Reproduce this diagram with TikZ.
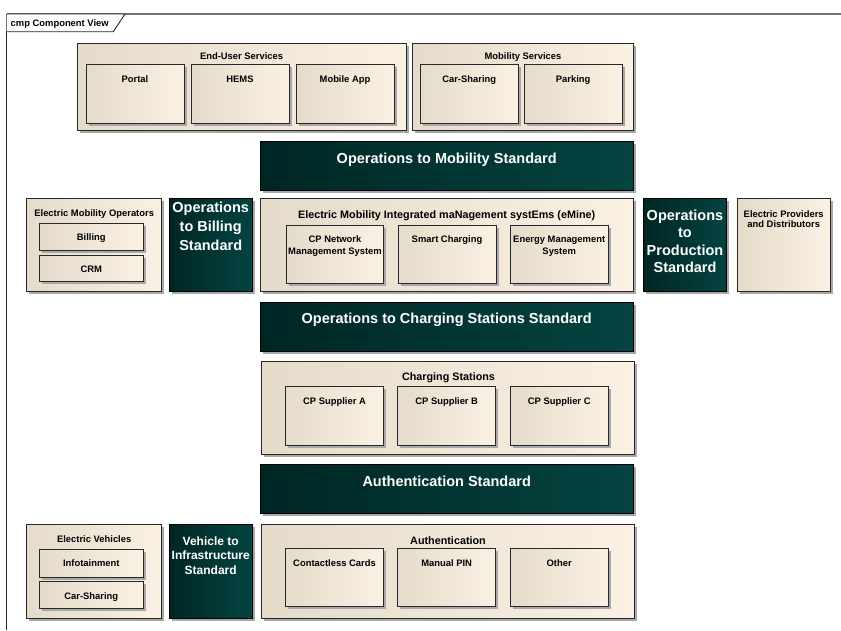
\documentclass[tikz,border=0pt]{standalone}
\usepackage{fontspec}
\setmainfont{Liberation Sans}
\usetikzlibrary{shadows,fit}

\definecolor{beigeL}{RGB}{228,219,202}
\definecolor{beigeR}{RGB}{251,241,227}
\definecolor{tealL}{RGB}{0,38,36}
\definecolor{tealR}{RGB}{4,68,65}
\definecolor{edge}{RGB}{40,40,40}

\tikzset{
  shadebase/.style={inner sep=0pt, outer sep=0pt, draw=edge, line width=0.9pt,
    general shadow={fill=black!34, shadow xshift=2.6pt, shadow yshift=-2.6pt}},
  container/.style={shadebase, left color=beigeL, right color=beigeR},
  part/.style={container},
  standard/.style={shadebase, draw=black, left color=tealL, right color=tealR},
  small/.style={font=\bfseries\fontsize{9.4}{11}\selectfont, text=black,
    inner sep=0pt, anchor=base, align=center},
  title/.style={small, font=\bfseries\fontsize{10.8}{12}\selectfont},
  big/.style={font=\bfseries\fontsize{14.5}{17.5}\selectfont, text=white,
    inner sep=0pt, anchor=base, align=center},
}

% #1 name, #2 style, (#3,#4) top-left, (#5,#6) bottom-right
\newcommand\comp[6]{\node[#2, fit={(#3,#4) (#5,#6)}] (#1) {};}

\begin{document}
\begin{tikzpicture}[x=1pt, y=-1pt]
\useasboundingbox (0,0) rectangle (841,630);
\fill[white] (0,0) rectangle (841,630);

% diagram frame and its name tab
\draw[black!55, line width=1.2pt] (6.7,14) -- (841,14);
\draw[black!85, line width=1pt] (6.7,630) -- (6.7,14);
\draw[black!85, line width=0.9pt, fill=white] (6.7,14) -- (125,14) -- (113.3,31.7) -- (6.7,31.7);
\node[small, anchor=base west] (frame-t) at (10.5,26.5) {cmp Component View};

% ---------- top row: services ----------
\comp{eus}{container}{77.3}{43.3}{406}{130.3}
\comp{ms}{container}{412.7}{43.3}{633.3}{130.3}
\comp{portal}{part}{86}{64.3}{184}{123.3}
\comp{hems}{part}{191}{64.3}{289}{123.3}
\comp{mobapp}{part}{296}{64.3}{394}{123.3}
\comp{carsh}{part}{420}{64.3}{518.3}{123.3}
\comp{parking}{part}{524}{64.3}{622.3}{123.3}
\node[small] (eus-t) at (241.6,59.5) {End-User Services};
\node[small] (ms-t) at (523,59.5) {Mobility Services};
\node[small] (portal-t) at (135,82.8) {Portal};
\node[small] (hems-t) at (240,82.8) {HEMS};
\node[small] (mobapp-t) at (345,82.8) {Mobile App};
\node[small] (carsh-t) at (469.2,82.8) {Car-Sharing};
\node[small] (parking-t) at (573.2,82.8) {Parking};

% ---------- operations to mobility ----------
\comp{opmob}{standard}{260}{141.7}{633.3}{190.7}
\node[big] (opmob-t) at (446.7,163.7) {Operations to Mobility Standard};

% ---------- middle row: operators, eMine, providers ----------
% (multi-line labels are placed by the baseline of their last line)
\comp{emo}{container}{26.7}{198.3}{161.7}{291.7}
\comp{billing}{part}{39.3}{223.3}{143.3}{250}
\comp{crm}{part}{39.3}{255}{143.3}{281.7}
\node[small] (emo-t) at (94.2,216.8) {Electric Mobility Operators};
\node[small] (billing-t) at (91.3,240.4) {Billing};
\node[small] (crm-t) at (91.3,272) {CRM};

\comp{opbill}{standard}{169}{198.3}{252.3}{291.7}
\node[big, font=\bfseries\fontsize{14.5}{19}\selectfont] (opbill-t) at (210.7,250) {Operations\\to Billing\\Standard};

\comp{emine}{container}{260}{198.3}{633.3}{291.7}
\comp{cpnet}{part}{286.7}{225.7}{383.3}{283.3}
\comp{smart}{part}{398}{225.7}{496}{283.3}
\comp{energy}{part}{510}{225.7}{608.3}{283.3}
\node[title] (emine-t) at (446.7,218.5) {Electric Mobility Integrated maNagement systEms (eMine)};
\node[small, font=\bfseries\fontsize{9.4}{12.5}\selectfont] (cpnet-t) at (335,254.5) {CP Network\\Management System};
\node[small] (smart-t) at (447,242) {Smart Charging};
\node[small, font=\bfseries\fontsize{9.4}{12.5}\selectfont] (energy-t) at (559.2,254.5) {Energy Management\\System};

\comp{opprod}{standard}{643.3}{198.3}{726.7}{291.7}
\node[big] (opprod-t) at (685,272.5) {Operations\\to\\Production\\Standard};

\comp{eprov}{container}{737.3}{198.3}{830}{291.7}
\node[small, font=\bfseries\fontsize{9.4}{10.5}\selectfont] (eprov-t) at (783.7,227.5) {Electric Providers\\and Distributors};

% ---------- charging stations ----------
\comp{opcs}{standard}{260}{302.3}{633.3}{351}
\node[big] (opcs-t) at (446.7,323.7) {Operations to Charging Stations Standard};

\comp{cs}{container}{261.7}{361.7}{634.3}{454.3}
\comp{cpa}{part}{285.7}{386.7}{383.3}{445}
\comp{cpb}{part}{397.7}{386.7}{495.7}{445}
\comp{cpc}{part}{510}{386.7}{608.3}{445}
\node[title] (cs-t) at (448.5,380.5) {Charging Stations};
\node[small] (cpa-t) at (334.5,404.4) {CP Supplier A};
\node[small] (cpb-t) at (446.7,404.4) {CP Supplier B};
\node[small] (cpc-t) at (559.2,404.4) {CP Supplier C};

% ---------- authentication ----------
\comp{authstd}{standard}{260}{464}{633.3}{513}
\node[big] (authstd-t) at (446.7,486) {Authentication Standard};

\comp{ev}{container}{26.7}{524.3}{161.7}{618.3}
\comp{info}{part}{39.3}{549}{143.3}{577}
\comp{carsh2}{part}{39.3}{581}{143.3}{608.3}
\node[small] (ev-t) at (94.2,542.7) {Electric Vehicles};
\node[small] (info-t) at (91.3,566.7) {Infotainment};
\node[small] (carsh2-t) at (91.3,599) {Car-Sharing};

\comp{v2i}{standard}{169}{524.3}{252.3}{618.3}
\node[big, font=\bfseries\fontsize{12}{14.2}\selectfont] (v2i-t) at (210.7,574) {Vehicle to\\Infrastructure\\Standard};

\comp{auth}{container}{261.7}{524.3}{634.3}{618.3}
\comp{cc}{part}{285.7}{548}{383.3}{606.7}
\comp{pin}{part}{397.7}{548}{495.7}{606.7}
\comp{other}{part}{510}{548}{608.3}{606.7}
\node[title] (auth-t) at (448,544) {Authentication};
\node[small] (cc-t) at (334.5,566.3) {Contactless Cards};
\node[small] (pin-t) at (446.7,566.3) {Manual PIN};
\node[small] (other-t) at (559.2,566.3) {Other};
\end{tikzpicture}
\end{document}
